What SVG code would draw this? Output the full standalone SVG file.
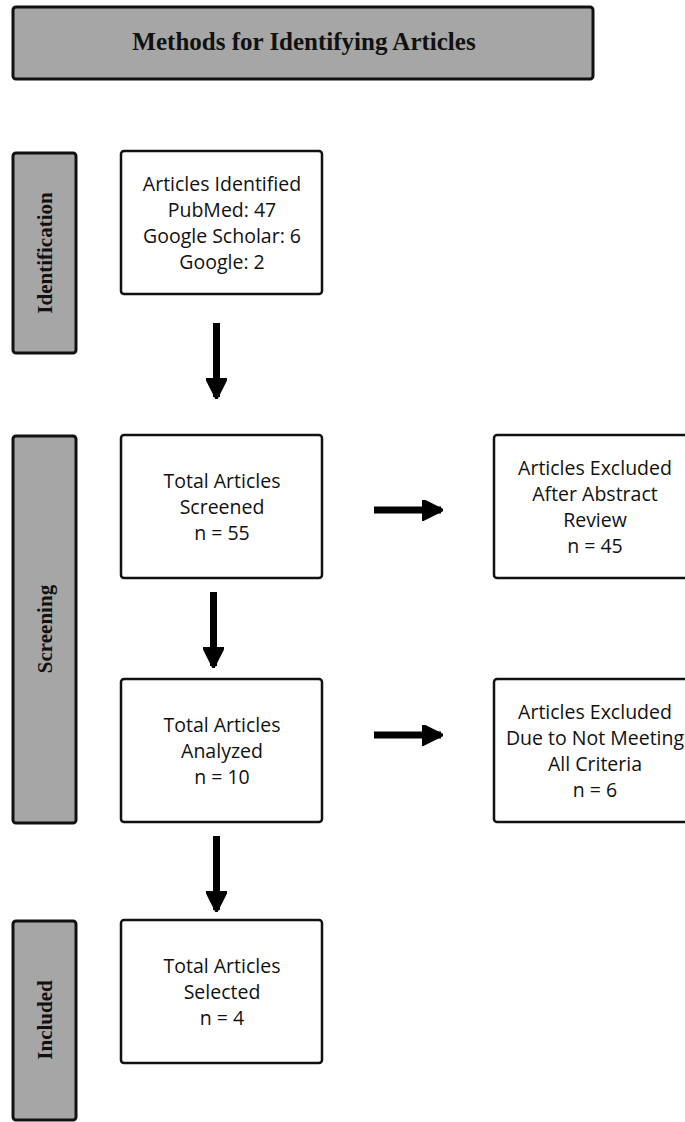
<svg xmlns="http://www.w3.org/2000/svg" width="685" height="1122" viewBox="0 0 685 1122">
<style>
.stage{fill:#a6a6a6;stroke:#111;stroke-width:3}
.box{fill:#fff;stroke:#111;stroke-width:2.5}
.t{font-family:"Open Sans","Noto Sans",sans-serif;font-size:19.5px;fill:#111;text-anchor:middle}
.s{font-family:"Liberation Serif","Times New Roman",serif;font-weight:bold;fill:#111;text-anchor:middle}
</style>
<defs>
<marker id="ah" viewBox="0 0 10 10" refX="9" refY="5" markerWidth="3" markerHeight="3" orient="auto" markerUnits="strokeWidth">
<path d="M0,0 L10,5 L0,10 Z" fill="#000" stroke="#000" stroke-linejoin="round"/>
</marker>
</defs>
<rect width="685" height="1122" fill="#fff"/>
<g id="title">
<rect class="stage" x="13" y="7" width="580" height="72" rx="3"/>
<text class="s" x="304" y="50" font-size="25">Methods for Identifying Articles</text>
</g>
<g id="stage-identification">
<rect class="stage" x="13" y="153" width="63" height="200" rx="3"/>
<text class="s" font-size="21" transform="translate(52,253) rotate(-90)">Identification</text>
</g>
<g id="stage-screening">
<rect class="stage" x="13" y="436" width="63" height="387" rx="3"/>
<text class="s" font-size="21" transform="translate(52,629) rotate(-90)">Screening</text>
</g>
<g id="stage-included">
<rect class="stage" x="13" y="921" width="63" height="199" rx="3"/>
<text class="s" font-size="21" transform="translate(52,1020) rotate(-90)">Included</text>
</g>
<g id="identified">
<rect class="box" x="121" y="151" width="201" height="143" rx="3"/>
<text class="t" x="222" y="191">Articles Identified</text>
<text class="t" x="222" y="217">PubMed: 47</text>
<text class="t" x="222" y="243">Google Scholar: 6</text>
<text class="t" x="222" y="269">Google: 2</text>
</g>
<g id="screened">
<rect class="box" x="121" y="435" width="201" height="143" rx="3"/>
<text class="t" x="222" y="488">Total Articles</text>
<text class="t" x="222" y="514">Screened</text>
<text class="t" x="222" y="540">n = 55</text>
</g>
<g id="excluded-abstract">
<rect class="box" x="494" y="435" width="205" height="143" rx="3"/>
<text class="t" x="595" y="475">Articles Excluded</text>
<text class="t" x="595" y="501">After Abstract</text>
<text class="t" x="595" y="527">Review</text>
<text class="t" x="595" y="553">n = 45</text>
</g>
<g id="analyzed">
<rect class="box" x="121" y="679" width="201" height="143" rx="3"/>
<text class="t" x="222" y="732">Total Articles</text>
<text class="t" x="222" y="758">Analyzed</text>
<text class="t" x="222" y="784">n = 10</text>
</g>
<g id="excluded-criteria">
<rect class="box" x="494" y="679" width="205" height="143" rx="3"/>
<text class="t" x="595" y="719">Articles Excluded</text>
<text class="t" x="595" y="745">Due to Not Meeting</text>
<text class="t" x="595" y="771">All Criteria</text>
<text class="t" x="595" y="797">n = 6</text>
</g>
<g id="selected">
<rect class="box" x="121" y="920" width="201" height="143" rx="3"/>
<text class="t" x="222" y="973">Total Articles</text>
<text class="t" x="222" y="999">Selected</text>
<text class="t" x="222" y="1025">n = 4</text>
</g>
<g id="connectors" stroke="#000" stroke-width="7" fill="none">
<line x1="216.5" y1="323" x2="216.5" y2="397" marker-end="url(#ah)"/>
<line x1="213.5" y1="592" x2="213.5" y2="666" marker-end="url(#ah)"/>
<line x1="216.5" y1="836" x2="216.5" y2="910" marker-end="url(#ah)"/>
<line x1="374" y1="510" x2="441" y2="510" marker-end="url(#ah)"/>
<line x1="374" y1="735" x2="441" y2="735" marker-end="url(#ah)"/>
</g>
</svg>
